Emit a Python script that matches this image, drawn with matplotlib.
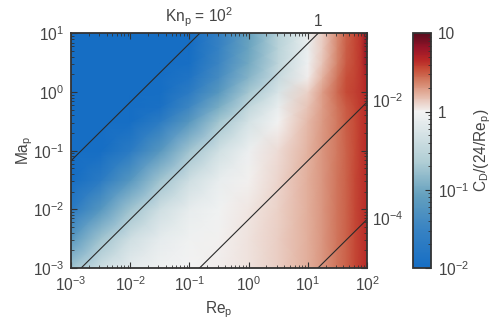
import numpy as np
import matplotlib
matplotlib.use("Agg")
import matplotlib.pyplot as plt
from matplotlib.colors import LogNorm, LinearSegmentedColormap
from matplotlib.transforms import blended_transform_factory

# grid (log10 of Re_p and Ma_p)
log_re = [-3, -2.5, -2, -1.5, -1, -0.5, 0, 0.5, 1, 1.25, 1.5, 1.65, 1.8, 1.9, 2]
log_ma = [-3, -2.5, -2, -1.5, -1, -0.5, -0.25, 0, 0.25, 0.5, 0.75, 1]

# C_D/(24/Re_p), one row per Ma_p (bottom to top)
ratio = [
    [0.180, 0.437, 0.732, 0.907, 0.994, 1.056, 1.146, 1.329, 1.729, 2.083, 2.61, 3.05, 3.59, 4.03, 4.57],
    [0.0621, 0.181, 0.438, 0.737, 0.922, 1.030, 1.137, 1.326, 1.728, 2.082, 2.609, 3.049, 3.59, 4.03, 4.57],
    [0.0201, 0.0622, 0.181, 0.442, 0.750, 0.955, 1.109, 1.316, 1.724, 2.079, 2.607, 3.047, 3.59, 4.03, 4.57],
    [0.0064, 0.0202, 0.0624, 0.183, 0.449, 0.776, 1.029, 1.283, 1.710, 2.069, 2.600, 3.042, 3.59, 4.03, 4.57],
    [0.0020, 0.0064, 0.0202, 0.0629, 0.186, 0.465, 0.836, 1.191, 1.668, 2.040, 2.580, 3.025, 3.58, 4.03, 4.57],
    [0.0006, 0.0020, 0.0064, 0.0204, 0.0639, 0.192, 0.501, 0.973, 1.571, 1.994, 2.583, 3.06, 3.58, 4.03, 4.57],
    [0.0004, 0.0012, 0.0037, 0.0115, 0.0363, 0.113, 0.330, 0.786, 1.471, 1.954, 2.61, 3.14, 3.6, 4.05, 4.6],
    [0.0002, 0.0007, 0.0021, 0.0067, 0.0211, 0.0655, 0.198, 0.554, 1.321, 1.95, 2.84, 3.56, 3.8, 4.2, 4.7],
    [0.0002, 0.0005, 0.0015, 0.0046, 0.0141, 0.0434, 0.131, 0.380, 1.037, 1.66, 2.605, 3.40, 3.7, 4.2, 5.0],
    [0.0001, 0.0003, 0.0011, 0.0035, 0.0109, 0.0338, 0.104, 0.308, 0.884, 1.464, 2.385, 3.19, 3.6, 4.2, 6.5],
    [0.0001, 0.0003, 0.0010, 0.0031, 0.0096, 0.0298, 0.0918, 0.277, 0.815, 1.375, 2.28, 3.09, 3.6, 4.2, 7.0],
    [0.0001, 0.0003, 0.0009, 0.0028, 0.0089, 0.0278, 0.0861, 0.2625, 0.781, 1.33, 2.23, 3.05, 3.6, 4.2, 7.0],
]

# constant Knudsen number lines, Kn = sqrt(gamma*pi/2) * Ma / Re
kn_values = [1e2, 1, 1e-2, 1e-4]
kn_labels = [r"Kn$_\mathrm{p}$ = 10$^2$", "1", r"10$^{-2}$", r"10$^{-4}$"]
kn_factor = np.sqrt(1.4 * np.pi / 2)

plt.rcParams["font.family"] = ["Liberation Sans", "DejaVu Sans"]
plt.rcParams["mathtext.fontset"] = "custom"
plt.rcParams["mathtext.rm"] = "Liberation Sans"
plt.rcParams["mathtext.it"] = "Liberation Sans:italic"
plt.rcParams["font.size"] = 11.2
txt = "#444444"
plt.rcParams["text.color"] = txt
plt.rcParams["axes.labelcolor"] = txt
plt.rcParams["xtick.labelcolor"] = txt
plt.rcParams["ytick.labelcolor"] = txt

cmap = LinearSegmentedColormap.from_list("drag", [
    (0.00, (22/255, 110/255, 196/255)),
    (0.16, (55/255, 130/255, 195/255)),
    (0.31, (100/255, 160/255, 190/255)),
    (0.45, (175/255, 205/255, 212/255)),
    (0.667, (243/255, 243/255, 243/255)),
    (0.70, (236/255, 214/255, 206/255)),
    (0.75, (225/255, 170/255, 150/255)),
    (0.80, (210/255, 124/255, 98/255)),
    (0.85, (198/255, 76/255, 55/255)),
    (0.89, (183/255, 38/255, 38/255)),
    (0.94, (150/255, 20/255, 40/255)),
    (1.00, (90/255, 12/255, 30/255)),
])
norm = LogNorm(vmin=1e-2, vmax=10)

re = 10.0 ** np.array(log_re)
ma = 10.0 ** np.array(log_ma)
vals = np.clip(np.array(ratio), 1e-4, None)

fig = plt.figure(figsize=(4.99, 3.27), dpi=100)
ax = fig.add_axes([0.1423, 0.1804, 0.5932, 0.7172])
cax = fig.add_axes([0.8277, 0.1804, 0.0361, 0.7172])

mesh = ax.pcolormesh(re, ma, vals, shading="gouraud", cmap=cmap, norm=norm, rasterized=True)

ax.set_xscale("log")
ax.set_yscale("log")
ax.set_xlim(1e-3, 1e2)
ax.set_ylim(1e-3, 1e1)

re_line = np.array([1e-3, 1e2])
top_tr = blended_transform_factory(ax.transData, ax.transAxes)
right_tr = blended_transform_factory(ax.transAxes, ax.transData)
for kn, lab in zip(kn_values, kn_labels):
    ax.plot(re_line, kn * re_line / kn_factor, color="#2a2a2a", lw=0.8)
    re_top = kn_factor * 10 / kn
    ma_right = kn * 100 / kn_factor
    if re_top <= 100:
        ax.text(re_top, 1.02, lab, transform=top_tr, ha="center", va="bottom")
    else:
        ax.text(1.018, ma_right, lab, transform=right_tr, ha="left", va="center")

ax.set_xlabel(r"Re$_\mathrm{p}$", labelpad=4)
ax.set_ylabel(r"Ma$_\mathrm{p}$", labelpad=-2)
ax.set_xticks([1e-3, 1e-2, 1e-1, 1e0, 1e1, 1e2])
ax.set_yticks([1e-3, 1e-2, 1e-1, 1e0, 1e1])
ax.tick_params(which="both", direction="in", top=True, right=True, color="#333333")
ax.tick_params(which="major", length=4, width=0.8, pad=5)
ax.tick_params(which="minor", length=2, width=0.6)
for s in ax.spines.values():
    s.set_linewidth(1.3)
    s.set_color("#333333")

cb = fig.colorbar(mesh, cax=cax)
cb.set_ticks([1e-2, 1e-1, 1, 10])
cb.set_ticklabels([r"10$^{-2}$", r"10$^{-1}$", "1", "10"])
cax.tick_params(which="both", direction="in", color="#333333")
cax.tick_params(which="major", length=4, width=0.8, pad=5)
cax.tick_params(which="minor", length=2, width=0.6)
cb.outline.set_linewidth(1.3)
cb.outline.set_edgecolor("#333333")
cb.set_label(r"C$_\mathrm{D}$/(24/Re$_\mathrm{p}$)", labelpad=2)

fig.savefig("out.png", dpi=100)
